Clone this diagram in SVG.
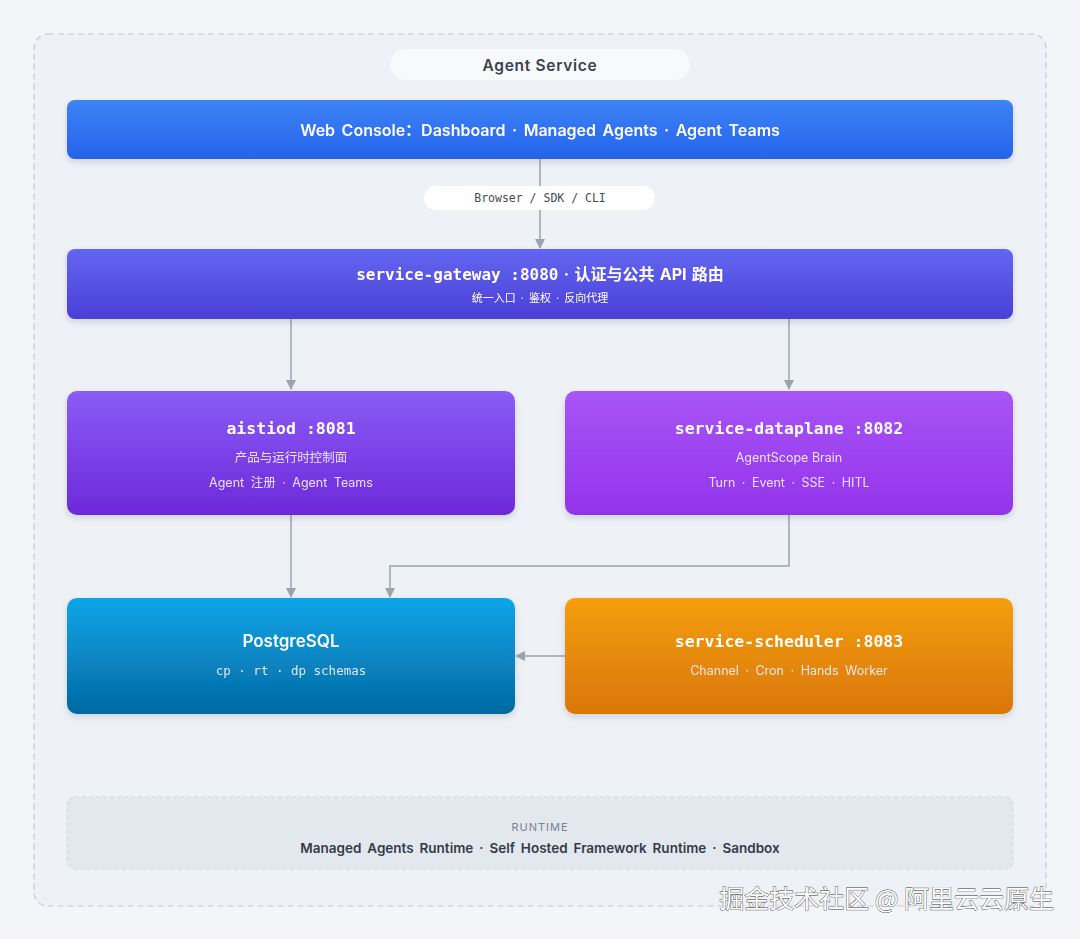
<svg xmlns="http://www.w3.org/2000/svg" width="1080" height="939" viewBox="0 0 1080 939">
<defs>
<linearGradient id="gWeb" x1="0" y1="0" x2="0" y2="1"><stop offset="0" stop-color="#3d83f6"/><stop offset="1" stop-color="#2563eb"/></linearGradient>
<linearGradient id="gGw" x1="0" y1="0" x2="0" y2="1"><stop offset="0" stop-color="#6366f1"/><stop offset="1" stop-color="#4a3fd6"/></linearGradient>
<linearGradient id="gAi" x1="0" y1="0" x2="0" y2="1"><stop offset="0" stop-color="#8b5cf6"/><stop offset="1" stop-color="#6d28d9"/></linearGradient>
<linearGradient id="gDp" x1="0" y1="0" x2="0" y2="1"><stop offset="0" stop-color="#a855f7"/><stop offset="1" stop-color="#9333ea"/></linearGradient>
<linearGradient id="gPg" x1="0" y1="0" x2="0" y2="1"><stop offset="0" stop-color="#0ea5e9"/><stop offset="1" stop-color="#0369a1"/></linearGradient>
<linearGradient id="gSc" x1="0" y1="0" x2="0" y2="1"><stop offset="0" stop-color="#f59e0b"/><stop offset="1" stop-color="#d97706"/></linearGradient>
<filter id="sh" x="-5%" y="-20%" width="110%" height="150%"><feDropShadow dx="0" dy="3" stdDeviation="3" flood-color="#1e293b" flood-opacity="0.15"/></filter>
<marker id="ah" viewBox="0 0 10 10" refX="9" refY="5" markerWidth="10" markerHeight="10" markerUnits="userSpaceOnUse" orient="auto"><path d="M0,0 L10,5 L0,10 z" fill="#9ca3af"/></marker>
<style>
.node{filter:url(#sh)}
.t{fill:#ffffff;text-anchor:middle;font-family:Inter,"Noto Sans CJK SC",sans-serif}
.mono{font-family:"DejaVu Sans Mono","Liberation Mono","Noto Sans CJK SC",monospace}
.tb{font-weight:bold}
.sub{font-size:12.5px;fill:#f3f0ff;opacity:0.92;word-spacing:3px}
.edge{fill:none;stroke:#9ca3af;stroke-width:1.5}
</style>
</defs>
<rect width="1080" height="939" fill="#f3f5f9"/>
<g id="container">
<rect x="34" y="34" width="1012" height="872" rx="14" fill="#eef1f6" stroke="#c3cad4" stroke-width="1.2" stroke-dasharray="6 4"/>
<rect x="390" y="49" width="300" height="31" rx="15.5" fill="#f7f9fb"/>
<text x="540" y="70.5" text-anchor="middle" font-family="Inter,sans-serif" font-size="15.5" font-weight="600" fill="#3a4150" letter-spacing="0.7">Agent Service</text>
</g>
<g id="connectors">
<path class="edge" d="M540,159 V248" marker-end="url(#ah)"/>
<path class="edge" d="M291,319 V389" marker-end="url(#ah)"/>
<path class="edge" d="M789,319 V389" marker-end="url(#ah)"/>
<path class="edge" d="M291,515 V597" marker-end="url(#ah)"/>
<path class="edge" d="M789,515 V566 H390 V597" marker-end="url(#ah)"/>
<path class="edge" d="M565,656 H516" marker-end="url(#ah)"/>
<rect x="424" y="186" width="231" height="24" rx="12" fill="#ffffff"/>
<text x="540" y="202" text-anchor="middle" class="mono" font-size="11.5" fill="#444b57">Browser / SDK / CLI</text>
</g>
<g id="web-console" class="node">
<rect x="67" y="100" width="946" height="59" rx="8" fill="url(#gWeb)"/>
<text x="540" y="136" class="t" font-weight="600" font-size="16" word-spacing="2.5">Web Console：Dashboard · Managed Agents · Agent Teams</text>
</g>
<g id="service-gateway" class="node">
<rect x="67" y="249" width="946" height="70" rx="8" fill="url(#gGw)"/>
<text x="540" y="280" class="t tb" font-size="16" word-spacing="1.5"><tspan class="mono" word-spacing="0">service-gateway :8080</tspan> · 认证与公共 API 路由</text>
<text x="540" y="302" class="t" font-size="11" fill="#e8e6ff" word-spacing="2">统一入口 · 鉴权 · 反向代理</text>
</g>
<g id="aistiod" class="node">
<rect x="67" y="391" width="448" height="124" rx="10" fill="url(#gAi)"/>
<text x="291" y="434" class="t tb mono" font-size="16.5">aistiod :8081</text>
<text x="291" y="462" class="t sub">产品与运行时控制面</text>
<text x="291" y="487" class="t sub">Agent 注册 · Agent Teams</text>
</g>
<g id="service-dataplane" class="node">
<rect x="565" y="391" width="448" height="124" rx="10" fill="url(#gDp)"/>
<text x="789" y="434" class="t tb mono" font-size="16.5">service-dataplane :8082</text>
<text x="789" y="462" class="t sub" style="word-spacing:0">AgentScope Brain</text>
<text x="789" y="487" class="t sub">Turn · Event · SSE · HITL</text>
</g>
<g id="postgresql" class="node">
<rect x="67" y="598" width="448" height="116" rx="10" fill="url(#gPg)"/>
<text x="291" y="647" class="t" font-weight="600" font-size="17">PostgreSQL</text>
<text x="291" y="675" class="t mono sub" style="word-spacing:0">cp · rt · dp schemas</text>
</g>
<g id="service-scheduler" class="node">
<rect x="565" y="598" width="448" height="116" rx="10" fill="url(#gSc)"/>
<text x="789" y="647" class="t tb mono" font-size="16.5">service-scheduler :8083</text>
<text x="789" y="675" class="t sub" fill="#fff7ea">Channel · Cron · Hands Worker</text>
</g>
<g id="runtime">
<rect x="67" y="797" width="946" height="72" rx="8" fill="#e3e8ef" stroke="#cdd3dc" stroke-width="1" stroke-dasharray="4 3"/>
<text x="540" y="831" text-anchor="middle" font-family="Inter,sans-serif" font-size="11" fill="#7a828f" letter-spacing="1">RUNTIME</text>
<text x="540" y="853" text-anchor="middle" font-family="Inter,sans-serif" font-size="13.5" font-weight="600" fill="#343b47" word-spacing="2.5">Managed Agents Runtime · Self Hosted Framework Runtime · Sandbox</text>
</g>
<g id="watermark">
<text x="1054" y="908" text-anchor="end" font-family="Noto Sans CJK SC,sans-serif" font-size="25" fill="#ffffff" stroke="#3b3b3b" stroke-width="0.8" paint-order="stroke">掘金技术社区 @ 阿里云云原生</text>
</g>
</svg>
